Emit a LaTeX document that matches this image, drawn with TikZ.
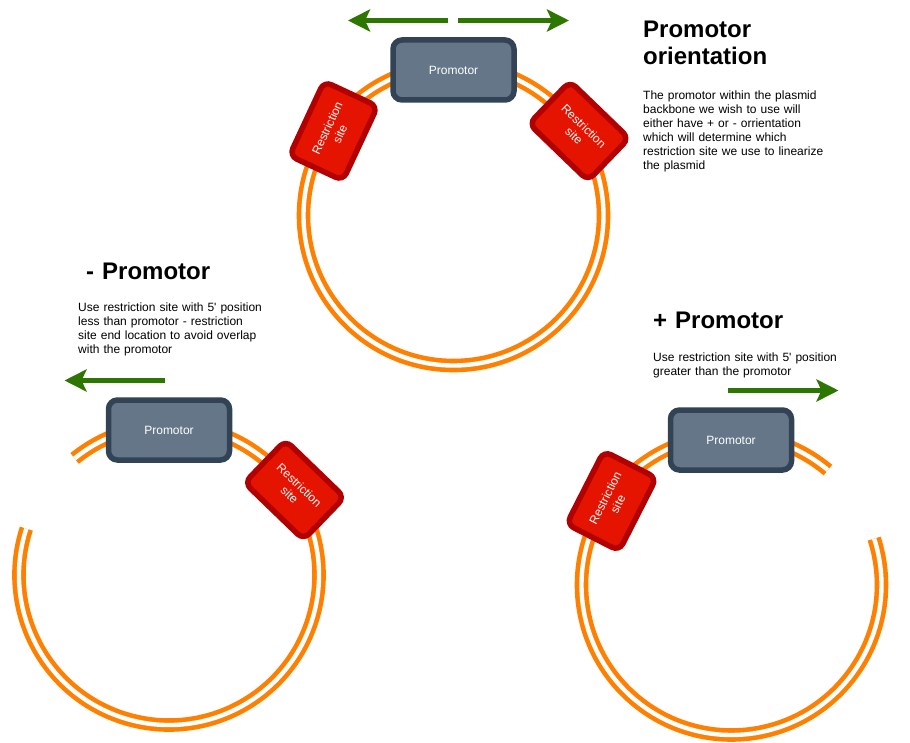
\documentclass[tikz,border=0pt]{standalone}
\usepackage{fontspec}
\setmainfont{Liberation Sans}
\usetikzlibrary{arrows.meta}
\definecolor{ringor}{HTML}{FF8000}
\definecolor{garrowc}{HTML}{2D7600}
\definecolor{promfill}{HTML}{647687}
\definecolor{promdraw}{HTML}{314354}
\definecolor{rsfill}{HTML}{E51400}
\definecolor{rsdraw}{HTML}{B20000}
\begin{document}
\begin{tikzpicture}[x=1pt,y=1pt,
 ring/.style={draw=ringor, line width=4.6pt, double=white, double distance=4.4pt},
 promo/.style={draw=promdraw, fill=promfill, line width=5.5pt, rounded corners=9pt, minimum width=121pt, minimum height=60pt, inner sep=0pt, text=white, font=\fontsize{12}{14}\selectfont},
 rsite/.style={draw=rsdraw, fill=rsfill, line width=5.5pt, rounded corners=8pt, minimum width=82pt, minimum height=59pt, inner sep=0pt, text=white, align=center, font=\fontsize{12}{14}\selectfont},
 garrow/.style={draw=garrowc, line width=5pt, -{Stealth[length=22pt,width=22pt,inset=5pt]}},
 title/.style={anchor=base west, inner sep=0pt, text width=250pt, align=left, font=\fontsize{24}{27.3}\selectfont\bfseries},
 body/.style={anchor=base west, inner sep=0pt, text width=250pt, align=left, font=\fontsize{12}{14}\selectfont}
]
\useasboundingbox (0,0) rectangle (910,-743);
\fill[white] (0,0) rectangle (910,-743);

% plasmid rings
\coordinate (tc) at (453.5,-215.5);
\coordinate (lc) at (169,-575);
\coordinate (rc) at (731.5,-585);
\draw[ring] (tc) circle (150);
\draw[ring] ([shift={(162:150)}]lc) arc[start angle=162, end angle=489, radius=150];
\draw[ring] ([shift={(50:150)}]rc) arc[start angle=50, end angle=378, radius=150];

% promotors
\node[promo] (p1) at (453.5,-70) {Promotor};
\node[promo] (p2) at (169,-430) {Promotor};
\node[promo] (p3) at (731,-440) {Promotor};

% restriction sites
\node[rsite, rotate=65] (r1) at (333.5,-131) {Restriction\\site};
\node[rsite, rotate=-44] (r2) at (579,-131) {Restriction\\site};
\node[rsite, rotate=-44] (r3) at (294.5,-490) {Restriction\\site};
\node[rsite, rotate=63] (r4) at (611.5,-501) {Restriction\\site};

% arrows
\coordinate (a1s) at (448,-20.5);
\coordinate (a1e) at (348,-20.5);
\coordinate (a2s) at (458,-20.5);
\coordinate (a2e) at (569,-20.5);
\coordinate (a3s) at (164.5,-380.5);
\coordinate (a3e) at (64.5,-380.5);
\coordinate (a4s) at (728,-390.5);
\coordinate (a4e) at (838.5,-390.5);
\draw[garrow] (a1s) -- (a1e);
\draw[garrow] (a2s) -- (a2e);
\draw[garrow] (a3s) -- (a3e);
\draw[garrow] (a4s) -- (a4e);

% texts
\node[title] (t1) at (643,-37.7) {Promotor\\orientation};
\node[body] (b1) at (643,-99.3) {The promotor within the plasmid\\backbone we wish to use will\\either have + or - orrientation\\which will determine which\\restriction site we use to linearize\\the plasmid};
\node[title] (t2) at (86,-279.5) {- Promotor};
\node[body] (b2) at (78,-311.5) {Use restriction site with 5\textquotesingle{} position\\less than promotor - restriction\\site end location to avoid overlap\\with the promotor};
\node[title] (t3) at (653,-328.3) {+ Promotor};
\node[body] (b3) at (653,-361.5) {Use restriction site with 5\textquotesingle{} position\\greater than the promotor};
\end{tikzpicture}
\end{document}
